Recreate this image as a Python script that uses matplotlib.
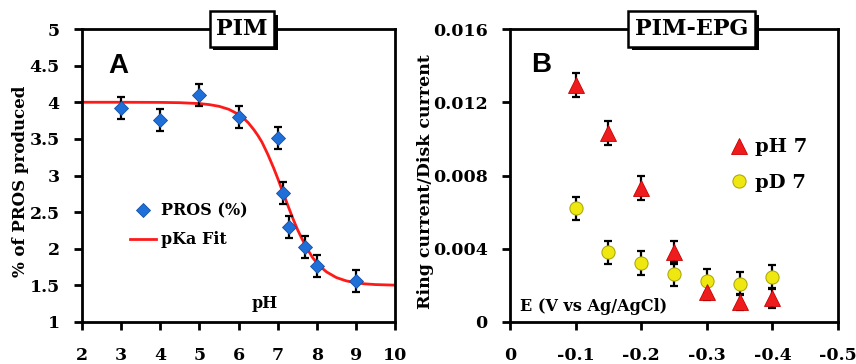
import matplotlib
matplotlib.use("Agg")
import matplotlib.pyplot as plt
from matplotlib.lines import Line2D
import matplotlib.patheffects as pe

# ---- Panel A data ----
ph_vals = [3, 4, 5, 6, 7, 7.15, 7.3, 7.7, 8, 9]
pros_vals = [3.92, 3.76, 4.10, 3.80, 3.51, 2.76, 2.30, 2.02, 1.77, 1.56]
pros_err = [0.15, 0.15, 0.15, 0.15, 0.15, 0.15, 0.15, 0.15, 0.15, 0.15]
fit_x = [2, 3, 4, 4.5, 5, 5.25, 5.5, 5.75, 6, 6.1, 6.25, 6.4, 6.5, 6.6, 6.75, 6.9,
         7.0, 7.1, 7.25, 7.4, 7.5, 7.6, 7.75, 7.9, 8.0, 8.1, 8.25, 8.5, 8.75, 9,
         9.25, 9.5, 10]
fit_y = [4.00, 4.00, 3.998, 3.994, 3.982, 3.968, 3.945, 3.904, 3.835, 3.797, 3.72,
         3.62, 3.543, 3.455, 3.288, 3.10, 2.964, 2.82, 2.607, 2.40, 2.272, 2.16,
         2.002, 1.875, 1.809, 1.752, 1.684, 1.607, 1.562, 1.535, 1.52, 1.511, 1.503]
a_xticks = [2, 3, 4, 5, 6, 7, 8, 9, 10]
a_yticks = [1, 1.5, 2, 2.5, 3, 3.5, 4, 4.5, 5]
a_yticklabels = ["1", "1.5", "2", "2.5", "3", "3.5", "4", "4.5", "5"]

# ---- Panel B data ----
e_vals = [-0.1, -0.15, -0.2, -0.25, -0.3, -0.35, -0.4]
ph7_vals = [0.01295, 0.0103, 0.0073, 0.0038, 0.00164, 0.0011, 0.0013]
ph7_err = [0.00065, 0.00065, 0.00065, 0.00065, 0.00045, 0.00045, 0.00055]
pd7_vals = [0.0062, 0.0038, 0.0032, 0.0026, 0.00224, 0.0021, 0.00246]
pd7_err = [0.00065, 0.00065, 0.00065, 0.00065, 0.00065, 0.00065, 0.00065]
b_xticks = [0, -0.1, -0.2, -0.3, -0.4, -0.5]
b_xticklabels = ["0", "-0.1", "-0.2", "-0.3", "-0.4", "-0.5"]
b_yticks = [0, 0.004, 0.008, 0.012, 0.016]
b_yticklabels = ["0", "0.004", "0.008", "0.012", "0.016"]

SERIF = "DejaVu Serif"
SANS = "Liberation Sans"
plt.rcParams["font.family"] = [SERIF]
plt.rcParams["font.weight"] = "bold"

W, H = 856, 364
fig = plt.figure(figsize=(W / 100, H / 100), dpi=100)

def px_axes(l, t, r, b):
    return fig.add_axes([l / W, (H - b) / H, (r - l) / W, (b - t) / H])

def style_ticks(ax):
    ax.tick_params(axis="both", direction="out", length=6, width=2, colors="black",
                   labelsize=12.5)
    ax.tick_params(axis="x", pad=12)
    ax.tick_params(axis="y", pad=10)
    for lab in ax.get_xticklabels() + ax.get_yticklabels():
        lab.set_fontfamily(SERIF)
        lab.set_fontweight("bold")
    for s in ax.spines.values():
        s.set_linewidth(2)

def title_box(ax, x, label):
    t = ax.text(x, 1.0, label, transform=ax.get_xaxis_transform(), color="black",
                fontfamily=SERIF, fontweight="bold", fontsize=16, ha="center",
                va="center", clip_on=False, zorder=10,
                bbox=dict(boxstyle="square,pad=0.3", fc="white", ec="black", lw=1.8))
    t.get_bbox_patch().set_path_effects(
        [pe.SimplePatchShadow(offset=(2.5, -2.5), shadow_rgbFace="black", alpha=1.0),
         pe.Normal()])

# ---------------- Panel A ----------------
axA = px_axes(82, 29, 395, 322)
axA.plot(fit_x, fit_y, color="#ff1a1a", lw=2, zorder=2)
axA.errorbar(ph_vals, pros_vals, yerr=pros_err, fmt="none", ecolor="black",
             elinewidth=1.6, capsize=3, capthick=1.6, zorder=3)
axA.plot(ph_vals, pros_vals, linestyle="none", marker="D", ms=7.5,
         color="#1f6fd8", mec="#1450a8", mew=0.6, zorder=4)
axA.set_xlim(2, 10)
axA.set_ylim(1, 5)
axA.set_xticks(a_xticks)
axA.set_yticks(a_yticks)
axA.set_yticklabels(a_yticklabels)
style_ticks(axA)
axA.set_ylabel("% of PROS produced", fontfamily=SERIF, fontweight="bold",
               fontsize=12)
axA.yaxis.set_label_coords(-0.17, 0.48)
axA.text(2.94, 4.49, "A", fontfamily=SANS, fontweight="bold", fontsize=20,
         ha="center", va="center")
axA.text(6.66, 1.25, "pH", fontfamily=SERIF, fontweight="bold", fontsize=11.5,
         ha="center", va="center")
title_box(axA, 6.09, "PIM")
handlesA = [Line2D([], [], linestyle="none", marker="D", ms=7.5, color="#1f6fd8",
                   mec="#1450a8", mew=0.6),
            Line2D([], [], color="#ff1a1a", lw=2)]
axA.legend(handlesA, ["PROS (%)", "pKa Fit"], loc="center left",
           bbox_to_anchor=(0.154, 0.33), frameon=False,
           prop=dict(family=SERIF, weight="bold", size=11.5),
           handlelength=1.6, handletextpad=0.3, labelspacing=0.75,
           borderpad=0, borderaxespad=0)

# ---------------- Panel B ----------------
axB = px_axes(510, 29, 838, 322)
axB.errorbar(e_vals, pd7_vals, yerr=pd7_err, fmt="none", ecolor="black",
             elinewidth=1.6, capsize=3, capthick=1.6, zorder=3)
axB.errorbar(e_vals, ph7_vals, yerr=ph7_err, fmt="none", ecolor="black",
             elinewidth=1.6, capsize=3, capthick=1.6, zorder=3)
axB.plot(e_vals, pd7_vals, linestyle="none", marker="o", ms=9.5,
         color="#eee810", mec="#a8a200", mew=0.7, zorder=4)
axB.plot(e_vals, ph7_vals, linestyle="none", marker="^", ms=11,
         color="#ee1c1c", mec="#c80000", mew=0.6, zorder=5)
axB.set_xlim(0, -0.5)
axB.set_ylim(0, 0.016)
axB.set_xticks(b_xticks)
axB.set_xticklabels(b_xticklabels)
axB.set_yticks(b_yticks)
axB.set_yticklabels(b_yticklabels)
style_ticks(axB)
axB.set_ylabel("Ring current/Disk current", fontfamily=SERIF, fontweight="bold",
               fontsize=12.5)
axB.yaxis.set_label_coords(-0.232, 0.48)
axB.text(-0.048, 0.01405, "B", fontfamily=SANS, fontweight="bold", fontsize=20,
         ha="center", va="center")
axB.text(-0.015, 0.00085, "E (V vs Ag/AgCl)", fontfamily=SERIF, fontweight="bold",
         fontsize=11.5, ha="left", va="center")
title_box(axB, -0.277, "PIM-EPG")
handlesB = [Line2D([], [], linestyle="none", marker="^", ms=11, color="#ee1c1c",
                   mec="#c80000", mew=0.6),
            Line2D([], [], linestyle="none", marker="o", ms=9.5, color="#eee810",
                   mec="#a8a200", mew=0.7)]
axB.legend(handlesB, ["pH 7", "pD 7"], loc="center left",
           bbox_to_anchor=(0.67, 0.535), frameon=False,
           prop=dict(family=SERIF, weight="bold", size=14),
           handlelength=1.0, handletextpad=0.3, labelspacing=0.9,
           borderpad=0, borderaxespad=0)

fig.savefig("out.png", dpi=100)
